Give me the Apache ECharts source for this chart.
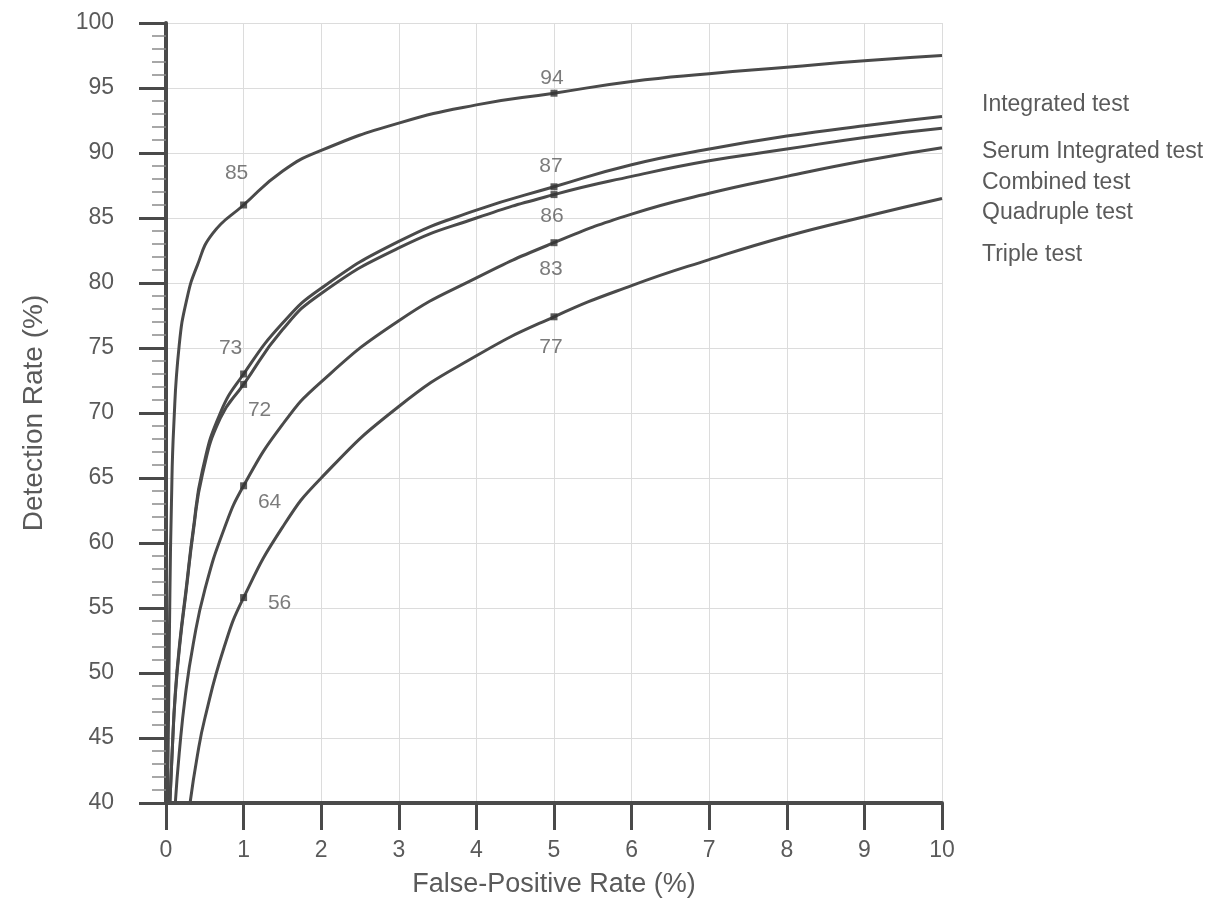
<!DOCTYPE html>
<html>
<head>
<meta charset="utf-8">
<script src="https://cdn.jsdelivr.net/npm/echarts@6/dist/echarts.min.js"></script>
<style>
html,body{margin:0;padding:0;background:#fff;}
#chart{width:1230px;height:904px;}
</style>
</head>
<body>
<div id="chart"></div>
<script>
// ---- data ----
const seriesNames = ['Integrated test', 'Serum Integrated test', 'Combined test', 'Quadruple test', 'Triple test'];

const integratedFPR = [0.02, 0.035, 0.05, 0.07, 0.1, 0.17, 0.27, 0.4, 0.6, 1, 1.5, 2, 3, 4, 5, 6, 7, 8, 9, 10];
const integratedDR  = [40, 48, 56, 63, 69, 75.2, 78.8, 81.3, 83.8, 86, 88.6, 90.2, 92.3, 93.7, 94.6, 95.5, 96.1, 96.6, 97.1, 97.5];

const serumFPR = [0.05, 0.08, 0.12, 0.18, 0.26, 0.35, 0.47, 0.7, 1, 1.5, 2, 3, 4, 5, 6, 7, 8, 9, 10];
const serumDR  = [40, 44, 48.5, 52.5, 56.5, 61, 65.6, 70, 73, 76.9, 79.6, 83.2, 85.6, 87.4, 89.1, 90.3, 91.3, 92.1, 92.8];

const combinedFPR = [0.05, 0.08, 0.12, 0.18, 0.26, 0.35, 0.47, 0.7, 1, 1.5, 2, 3, 4, 5, 6, 7, 8, 9, 10];
const combinedDR  = [40, 44, 48.3, 52.3, 56.3, 60.8, 65.3, 69.6, 72.2, 76.4, 79.2, 82.7, 85, 86.8, 88.2, 89.4, 90.3, 91.2, 91.9];

const quadrupleFPR = [0.12, 0.17, 0.25, 0.35, 0.5, 0.75, 1, 1.5, 2, 3, 4, 5, 6, 7, 8, 9, 10];
const quadrupleDR  = [40, 43.8, 48.3, 52.2, 56.4, 61.1, 64.4, 69.1, 72.4, 77.1, 80.4, 83.1, 85.3, 86.9, 88.2, 89.4, 90.4];

const tripleFPR = [0.31, 0.4, 0.5, 0.75, 1, 1.5, 2, 3, 4, 5, 6, 7, 8, 9, 10];
const tripleDR  = [40, 43.5, 46.5, 52, 55.8, 61.2, 65, 70.5, 74.4, 77.4, 79.8, 81.8, 83.6, 85.1, 86.5];

const markerFPR  = [1, 5, 1, 5, 1, 5, 1, 5, 1, 5];
const markerDR   = [86, 94.6, 73, 87.4, 72.2, 86.8, 64.4, 83.1, 55.8, 77.4];
const markerText = ['85', '94', '73', '87', '72', '86', '64', '83', '56', '77'];

const xTickValues = [0, 1, 2, 3, 4, 5, 6, 7, 8, 9, 10];
const yTickValues = [40, 45, 50, 55, 60, 65, 70, 75, 80, 85, 90, 95, 100];

// ---- layout / style (not data) ----
const labelOffsets = [[-7, -32], [-2, -15], [-13, -26], [-3, -21], [16, 26], [-2, 22], [26, 16], [-3, 27], [36, 6], [-3, 30]];
const legendTops = [105, 152, 183, 213, 255];
const INK = '#4a4a4a';
const TXT = '#5a5a5a';
const FONT = '"Liberation Sans", Arial, sans-serif';

function pairs(xs, ys) { return xs.map((x, i) => [x, ys[i]]); }

const curveData = [
  pairs(integratedFPR, integratedDR),
  pairs(serumFPR, serumDR),
  pairs(combinedFPR, combinedDR),
  pairs(quadrupleFPR, quadrupleDR),
  pairs(tripleFPR, tripleDR)
];

const lineSeries = curveData.map((d, i) => ({
  name: seriesNames[i],
  type: 'line',
  data: d,
  smooth: 0.5,
  showSymbol: false,
  symbol: 'none',
  clip: true,
  lineStyle: { color: INK, width: 3 },
  z: 3
}));

const markerSeries = {
  type: 'scatter',
  symbol: 'rect',
  symbolSize: 7,
  itemStyle: { color: '#333' },
  z: 5,
  data: markerFPR.map((x, i) => ({
    value: [x, markerDR[i]],
    label: {
      show: true,
      formatter: markerText[i],
      position: 'inside',
      offset: labelOffsets[i],
      color: TXT,
      fontSize: 21,
      fontFamily: FONT
    }
  }))
};

const chart = echarts.init(document.getElementById('chart'));
chart.setOption({
  backgroundColor: '#fff',
  animation: false,
  grid: { left: 166, right: 288, top: 23, bottom: 101, containLabel: false },
  xAxis: {
    type: 'value',
    min: xTickValues[0],
    max: xTickValues[xTickValues.length - 1],
    interval: 1,
    name: 'False-Positive Rate (%)',
    nameLocation: 'middle',
    nameGap: 68,
    nameTextStyle: { color: TXT, fontSize: 27, fontFamily: FONT },
    axisLine: { show: true, onZero: false, lineStyle: { color: INK, width: 4 } },
    axisTick: { show: true, length: 27, lineStyle: { color: INK, width: 3 } },
    axisLabel: { color: TXT, fontSize: 23, fontFamily: FONT, margin: 36 },
    splitLine: { show: true, lineStyle: { color: '#dcdcdc', width: 1 } }
  },
  yAxis: {
    type: 'value',
    min: yTickValues[0],
    max: yTickValues[yTickValues.length - 1],
    interval: 5,
    name: 'Detection Rate (%)',
    nameLocation: 'middle',
    nameGap: 118,
    nameRotate: 90,
    nameTextStyle: { color: TXT, fontSize: 28, fontFamily: FONT },
    axisLine: { show: true, onZero: false, lineStyle: { color: INK, width: 4 } },
    axisTick: { show: true, length: 27, lineStyle: { color: INK, width: 3 } },
    minorTick: { show: true, splitNumber: 5, length: 14, lineStyle: { color: '#8a8a8a', width: 1.5 } },
    axisLabel: { color: TXT, fontSize: 23, fontFamily: FONT, margin: 52 },
    splitLine: { show: true, lineStyle: { color: '#dcdcdc', width: 1 } }
  },
  graphic: seriesNames.map((n, i) => ({
    type: 'text',
    left: 982,
    top: legendTops[i] - 12,
    style: { text: n, fill: TXT, fontSize: 23, fontFamily: FONT }
  })),
  series: [...lineSeries, markerSeries]
});
</script>
</body>
</html>
